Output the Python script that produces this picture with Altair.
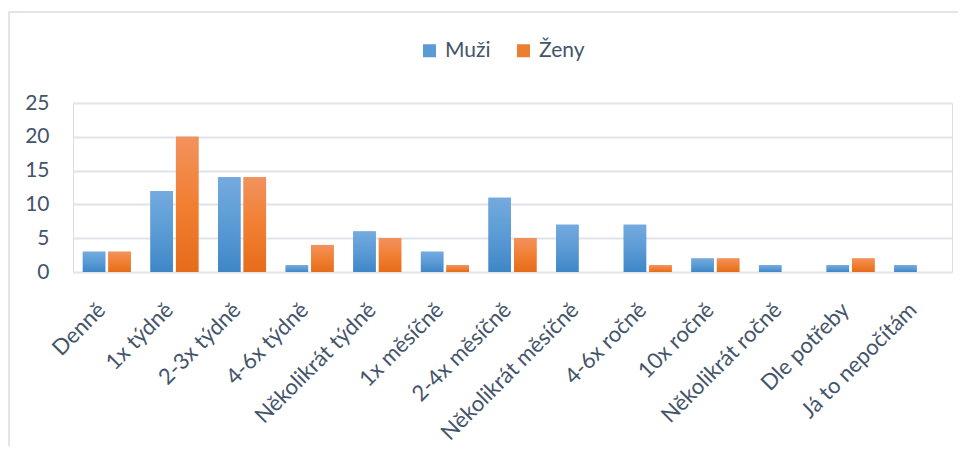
import altair as alt
import pandas as pd

categories = ["Denně", "1x týdně", "2-3x týdně", "4-6x týdně", "Několikrát týdně",
              "1x měsíčně", "2-4x měsíčně", "Několikrát měsíčně", "4-6x ročně",
              "10x ročně", "Několikrát ročně", "Dle potřeby", "Já to nepočítám"]
muzi = [3, 12, 14, 1, 6, 3, 11, 7, 7, 2, 1, 1, 1]
zeny = [3, 20, 14, 4, 5, 1, 5, 0, 1, 2, 0, 2, 0]
series = ["Muži", "Ženy"]
y_ticks = [0, 5, 10, 15, 20, 25]

rows = []
for c, m, z in zip(categories, muzi, zeny):
    rows.append({"cat": c, "series": "Muži", "value": m})
    rows.append({"cat": c, "series": "Ženy", "value": z})
df = pd.DataFrame(rows)

FONT = "Lato"
TXT = "#44546a"

x_enc = alt.X("cat:N", sort=categories, title=None,
              scale=alt.Scale(paddingInner=0.29, paddingOuter=0.145),
              axis=alt.Axis(labelAngle=-45, labelFontSize=22, labelColor=TXT, labelFont=FONT,
                            domain=False, ticks=False, labelPadding=34, labelAlign="right",
                            labelBaseline="middle", labelOffset=-5, labelLimit=300))
xo_enc = alt.XOffset("series:N", scale=alt.Scale(domain=series, paddingInner=0.12, paddingOuter=0))
y_enc = alt.Y("value:Q", title=None,
              scale=alt.Scale(domain=[0, 25], nice=False),
              axis=alt.Axis(values=y_ticks, labelFontSize=21, labelColor=TXT, labelFont=FONT,
                            domain=False, ticks=False, labelPadding=24,
                            gridColor="#dfe3ea", gridWidth=1.8))

legend_layer = alt.Chart(df).mark_bar().encode(
    x=x_enc, xOffset=xo_enc, y=y_enc,
    color=alt.Color("series:N",
                    scale=alt.Scale(domain=series, range=["#5b9bd5", "#ed7d31"]),
                    legend=alt.Legend(title=None, orient="none", direction="horizontal",
                                      legendX=346, legendY=-63, symbolType="square",
                                      symbolSize=169, symbolStrokeWidth=0,
                                      labelFontSize=21, labelFont=FONT, labelColor=TXT,
                                      labelOffset=5, columnPadding=22)),
)

grad_blue = alt.Gradient(gradient="linear",
                         stops=[alt.GradientStop(color="#74aadf", offset=0),
                                alt.GradientStop(color="#5b9bd5", offset=0.5),
                                alt.GradientStop(color="#3f86c7", offset=1)],
                         x1=0, x2=0, y1=0, y2=1)
grad_orange = alt.Gradient(gradient="linear",
                           stops=[alt.GradientStop(color="#f2925e", offset=0),
                                  alt.GradientStop(color="#f17f32", offset=0.5),
                                  alt.GradientStop(color="#e56c1b", offset=1)],
                           x1=0, x2=0, y1=0, y2=1)

blue_layer = alt.Chart(df).transform_filter(alt.datum.series == "Muži").mark_bar(
    color=grad_blue).encode(x=x_enc, xOffset=xo_enc, y=y_enc)
orange_layer = alt.Chart(df).transform_filter(alt.datum.series == "Ženy").mark_bar(
    color=grad_orange).encode(x=x_enc, xOffset=xo_enc, y=y_enc)

border = alt.Chart(pd.DataFrame({"a": [0]})).mark_rect(
    fill=None, stroke="#d9dde3", strokeWidth=1.5).encode(
    x=alt.value(-64), x2=alt.value(960), y=alt.value(-91), y2=alt.value(500))

chart = alt.layer(border, legend_layer, blue_layer, orange_layer).properties(
    width=879, height=169,
    autosize=alt.AutoSizeParams(type="none"),
    padding={"left": 65, "top": 95, "right": 6, "bottom": 174},
).configure_view(stroke=None).configure(font=FONT, background="white")

chart.save("out.html", embed_options={"renderer": "svg", "actions": False})
